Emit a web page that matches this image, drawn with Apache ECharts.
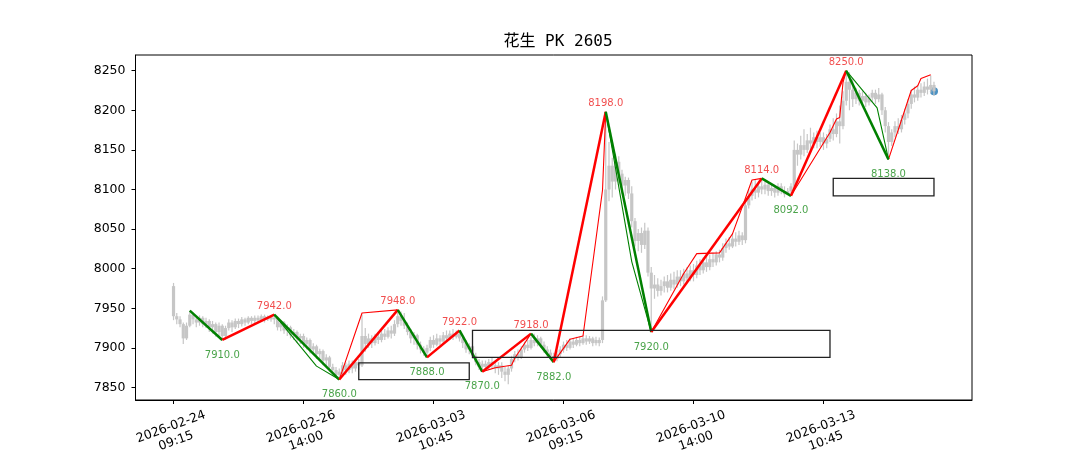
<!DOCTYPE html>
<html>
<head>
<meta charset="utf-8">
<script src="https://cdn.jsdelivr.net/npm/echarts@6/dist/echarts.min.js"></script>
<style>html,body{margin:0;padding:0;background:#fff}#c{width:1080px;height:450px}</style>
</head>
<body>
<div id="c"></div>
<script>
// ---- data ----
const titleText = '花生 PK 2605';
const tickPositions = [0, 40, 80, 120, 160, 200];
const tickLabels = ['2026-02-24\n09:15', '2026-02-26\n14:00', '2026-03-03\n10:45', '2026-03-06\n09:15', '2026-03-10\n14:00', '2026-03-13\n10:45'];
const yTicks = [7850, 7900, 7950, 8000, 8050, 8100, 8150, 8200, 8250];

// 15-minute bars: [open, close, low, high]
const bars = [
[7978,7940,7935,7982],[7940,7936,7930,7944],[7936,7930,7926,7940],[7930,7912,7905,7932],[7912,7928,7910,7932],
[7928,7942,7926,7947],[7942,7936,7930,7944],[7936,7932,7926,7940],[7932,7938,7928,7941],[7938,7930,7926,7940],
[7930,7934,7925,7938],[7934,7926,7920,7936],[7926,7930,7918,7934],[7930,7920,7914,7932],[7920,7928,7915,7932],
[7928,7915,7910,7930],[7915,7925,7910,7928],[7925,7932,7922,7936],[7932,7926,7920,7935],[7926,7934,7924,7937],
[7934,7930,7925,7937],[7930,7936,7927,7939],[7936,7932,7928,7938],[7932,7938,7930,7940],[7938,7934,7930,7940],
[7934,7938,7931,7941],[7938,7935,7932,7941],[7935,7940,7933,7942],[7940,7936,7932,7942],[7936,7939,7934,7941],
[7939,7936,7933,7941],[7936,7938,7930,7942],[7938,7926,7922,7940],[7926,7932,7921,7935],[7932,7922,7918,7934],
[7922,7926,7915,7930],[7926,7916,7912,7928],[7916,7920,7910,7924],[7920,7912,7906,7922],[7912,7915,7905,7918],
[7915,7905,7900,7918],[7905,7910,7898,7913],[7910,7898,7893,7912],[7898,7902,7892,7906],[7902,7892,7886,7904],
[7892,7896,7885,7899],[7896,7884,7878,7898],[7884,7888,7876,7892],[7888,7876,7870,7890],[7876,7872,7866,7880],
[7872,7866,7862,7876],[7866,7870,7860,7874],[7870,7878,7864,7882],[7878,7872,7866,7882],[7872,7880,7868,7884],
[7880,7874,7868,7884],[7874,7882,7870,7886],[7882,7878,7872,7886],[7878,7915,7876,7942],[7915,7905,7895,7925],
[7905,7912,7900,7918],[7912,7906,7900,7916],[7906,7914,7903,7918],[7914,7910,7905,7920],[7910,7918,7907,7922],
[7918,7914,7910,7924],[7914,7922,7912,7926],[7922,7918,7912,7928],[7918,7930,7915,7935],[7930,7940,7926,7948],
[7940,7934,7928,7946],[7934,7928,7924,7944],[7928,7920,7916,7932],[7920,7912,7906,7924],[7912,7916,7904,7920],
[7916,7904,7898,7918],[7904,7898,7893,7908],[7898,7894,7890,7902],[7894,7900,7888,7904],[7900,7910,7896,7914],
[7910,7904,7900,7916],[7904,7912,7902,7918],[7912,7908,7903,7916],[7908,7916,7906,7920],[7916,7912,7908,7922],
[7912,7918,7910,7922],[7918,7914,7910,7924],[7914,7918,7912,7922],[7918,7912,7908,7922],[7912,7906,7900,7916],
[7906,7898,7894,7910],[7898,7902,7892,7906],[7902,7890,7886,7904],[7890,7882,7878,7894],[7882,7876,7872,7886],
[7876,7880,7870,7884],[7880,7876,7872,7884],[7876,7882,7873,7886],[7882,7878,7874,7888],[7878,7874,7868,7884],
[7874,7878,7866,7882],[7878,7870,7862,7882],[7870,7866,7858,7876],[7866,7874,7854,7878],[7874,7886,7870,7890],
[7886,7892,7882,7896],[7892,7888,7884,7898],[7888,7898,7886,7902],[7898,7904,7894,7908],[7904,7900,7896,7910],
[7900,7910,7898,7914],[7910,7906,7902,7918],[7906,7912,7902,7916],[7912,7904,7900,7914],[7904,7898,7894,7908],
[7898,7894,7888,7902],[7894,7890,7886,7898],[7890,7886,7882,7894],[7886,7892,7883,7896],[7892,7898,7888,7902],
[7898,7904,7894,7908],[7904,7900,7896,7910],[7900,7908,7898,7912],[7908,7904,7900,7912],[7904,7910,7902,7914],
[7910,7906,7902,7914],[7906,7912,7904,7916],[7912,7908,7904,7916],[7908,7912,7905,7915],[7912,7906,7902,7914],
[7906,7910,7903,7914],[7910,7906,7902,7913],[7910,7960,7906,7965],[7960,8100,7958,8198],[8100,8130,8085,8160],
[8130,8110,8090,8140],[8110,8135,8100,8145],[8135,8120,8108,8142],[8120,8105,8095,8125],[8105,8112,8092,8116],
[8112,8095,8088,8115],[8095,8060,8052,8104],[8060,8035,8028,8064],[8035,8045,8022,8050],[8045,8030,8020,8052],
[8030,8048,8025,8058],[8048,7995,7990,8052],[7995,7975,7920,8002],[7975,7980,7962,7992],[7980,7972,7965,7988],
[7972,7978,7966,7986],[7978,7984,7970,7990],[7984,7976,7970,7992],[7976,7986,7972,7994],[7986,7980,7974,7996],
[7980,7990,7976,7998],[7990,7984,7978,7998],[7984,7994,7980,8000],[7994,7988,7982,8002],[7988,7998,7984,8004],
[7998,7992,7984,8006],[7992,8004,7988,8010],[8004,7998,7992,8012],[7998,8008,7994,8014],[8008,8002,7996,8016],
[8002,8012,7998,8018],[8012,8008,8002,8020],[8008,8018,8004,8022],[8018,8014,8008,8024],[8014,8026,8010,8032],
[8026,8032,8020,8038],[8032,8028,8024,8040],[8028,8038,8026,8044],[8038,8034,8028,8046],[8034,8042,8030,8048],
[8042,8036,8030,8046],[8036,8080,8032,8086],[8080,8092,8076,8100],[8092,8100,8086,8110],[8100,8096,8088,8112],
[8096,8104,8090,8110],[8104,8100,8094,8114],[8100,8106,8094,8110],[8106,8098,8092,8108],[8098,8102,8092,8106],
[8102,8096,8090,8106],[8096,8104,8092,8108],[8104,8098,8094,8108],[8098,8094,8090,8104],[8094,8098,8093,8102],
[8098,8104,8092,8108],[8104,8150,8102,8162],[8150,8144,8130,8158],[8144,8156,8138,8168],[8156,8150,8142,8176],
[8150,8162,8146,8170],[8162,8158,8150,8178],[8158,8166,8152,8172],[8166,8160,8152,8174],[8160,8166,8154,8172],
[8166,8158,8150,8172],[8158,8164,8152,8170],[8164,8176,8160,8182],[8176,8170,8162,8190],[8170,8186,8166,8196],
[8186,8180,8158,8206],[8180,8212,8176,8224],[8212,8236,8206,8250],[8236,8226,8200,8248],[8226,8214,8204,8240],
[8214,8222,8208,8228],[8222,8212,8206,8226],[8212,8218,8208,8224],[8218,8210,8204,8222],[8210,8216,8206,8220],
[8216,8222,8210,8226],[8222,8214,8208,8226],[8214,8220,8210,8228],[8220,8200,8194,8222],[8200,8180,8172,8204],
[8180,8160,8138,8185],[8160,8172,8155,8176],[8172,8180,8166,8186],[8180,8176,8170,8190],[8176,8188,8172,8194],
[8188,8196,8182,8202],[8196,8208,8190,8214],[8208,8220,8202,8226],[8220,8216,8210,8230],[8216,8226,8212,8232],
[8226,8222,8216,8234],[8222,8230,8218,8236],[8230,8226,8220,8240],[8226,8232,8222,8244],[8232,8224,8218,8236]
];

// main strokes (pivot index / price)
const biIndex = [5, 15, 31, 51, 69, 78, 88, 95, 110, 117, 133, 147, 181, 190, 207, 220];
const biPrice = [7947, 7910, 7942, 7860, 7948, 7888, 7922, 7870, 7918, 7882, 8198, 7920, 8114, 8092, 8250, 8138];
const labelledFrom = 1; // first pivot carries no label

// sub-level strokes
const thinUp = [
  [[51, 7860], [58, 7944], [69, 7948]],
  [[95, 7870], [99, 7875], [104, 7878], [105, 7887], [110, 7918]],
  [[117, 7882], [122, 7911], [126, 7915], [132, 8099], [133, 8198]],
  [[147, 7920], [157, 7994], [161, 8019], [168, 8020], [172, 8044], [178, 8112], [181, 8114]],
  [[190, 8092], [202, 8172], [204, 8189], [205, 8191], [206, 8235], [207, 8250]],
  [[220, 8138], [227, 8225], [229, 8231], [230, 8240], [233, 8245]]
];
const thinDown = [
  [[31, 7942], [44, 7877], [51, 7860]],
  [[133, 8198], [141, 8009], [147, 7920]],
  [[207, 8250], [216.5, 8203], [220, 8138]]
];

// centre boxes: [startIndex, endIndex, low, high]
const boxes = [[57, 91, 7860, 7881], [92, 202, 7888, 7922], [203, 234, 8092, 8114]];

const lastPoint = [234, 8224];

// ---- chart ----
const chart = echarts.init(document.getElementById('c'), null, {renderer: 'canvas'});
const RED = '#ff0000', GREEN = '#008000', GRAY = '#c6c6c6';
const FONT = 'DejaVu Sans';

const series = [];
series.push({
  type: 'custom', name: 'bars', z: 1,
  data: bars.map((b, i) => [i, b[0], b[1], b[2], b[3]]),
  encode: {x: 0, y: [1, 2, 3, 4]},
  renderItem: function (params, api) {
    const i = api.value(0);
    const pO = api.coord([i, api.value(1)]), pC = api.coord([i, api.value(2)]);
    const pL = api.coord([i, api.value(3)]), pH = api.coord([i, api.value(4)]);
    const top = Math.min(pO[1], pC[1]);
    const h = Math.max(1.5, Math.abs(pO[1] - pC[1]));
    return {type: 'group', children: [
      {type: 'line', shape: {x1: pH[0], y1: pH[1], x2: pL[0], y2: pL[1]}, style: {stroke: GRAY, lineWidth: 1.2}},
      {type: 'rect', shape: {x: pO[0] - 1.6, y: top, width: 3.2, height: h}, style: {fill: GRAY}}
    ]};
  }
});

series.push({
  type: 'scatter', z: 0, symbol: 'circle', symbolSize: 8,
  itemStyle: {color: '#1f77b4'}, data: [lastPoint]
});

thinUp.forEach(pts => series.push({type: 'line', z: 3, data: pts, symbol: 'none', silent: true,
  lineStyle: {color: RED, width: 1.1}}));
thinDown.forEach(pts => series.push({type: 'line', z: 3, data: pts, symbol: 'none', silent: true,
  lineStyle: {color: GREEN, width: 1.1}}));

for (let k = 0; k < biIndex.length - 1; k++) {
  const up = biPrice[k + 1] > biPrice[k];
  series.push({type: 'line', z: 4, symbol: 'none', silent: true,
    data: [[biIndex[k], biPrice[k]], [biIndex[k + 1], biPrice[k + 1]]],
    lineStyle: {color: up ? RED : GREEN, width: 2.5}});
}

const peaks = [], troughs = [];
for (let k = labelledFrom; k < biIndex.length; k++) {
  const isPeak = (k > 0 ? biPrice[k] > biPrice[k - 1] : biPrice[k] > biPrice[k + 1]);
  (isPeak ? peaks : troughs).push([biIndex[k], biPrice[k]]);
}
series.push({type: 'scatter', z: 6, symbolSize: 0, data: peaks, silent: true,
  label: {show: true, position: 'top', distance: 3, color: '#ee2222', fontSize: 10, fontFamily: FONT,
    formatter: p => p.value[1].toFixed(1)}});
series.push({type: 'scatter', z: 6, symbolSize: 0, data: troughs, silent: true,
  label: {show: true, position: 'bottom', distance: 10, color: '#1b8c1b', fontSize: 10, fontFamily: FONT,
    formatter: p => p.value[1].toFixed(1)}});

series.push({
  type: 'custom', z: 5, silent: true,
  data: boxes,
  encode: {x: [0, 1], y: [2, 3]},
  renderItem: function (params, api) {
    const a = api.coord([api.value(0), api.value(3)]);
    const b = api.coord([api.value(1), api.value(2)]);
    return {type: 'rect', shape: {x: a[0], y: a[1], width: b[0] - a[0], height: b[1] - a[1]},
      style: {fill: 'none', stroke: '#222', lineWidth: 1.3}};
  }
});

chart.setOption({
  animation: false,
  backgroundColor: '#fff',
  title: {text: titleText, left: 553, top: 29, textAlign: 'center',
    textStyle: {fontSize: 16, fontWeight: 'normal', color: '#000', fontFamily: "'DejaVu Sans Mono', 'Noto Sans CJK SC'"}},
  grid: {left: 135.5, top: 55, width: 836.5, height: 345, show: true, borderColor: '#000', borderWidth: 1,
    backgroundColor: 'transparent', containLabel: false, outerBoundsMode: 'none'},
  xAxis: {
    type: 'value', min: -11.7, max: 245.7,
    splitLine: {show: false},
    axisLine: {show: true, onZero: false, lineStyle: {color: '#000', width: 1}},
    axisTick: {show: true, length: 4, lineStyle: {color: '#000'}, customValues: tickPositions},
    axisLabel: {customValues: tickPositions, rotate: 20, align: 'center', verticalAlign: 'middle', margin: 34,
      fontSize: 12.5, lineHeight: 15, color: '#000', fontFamily: FONT,
      formatter: v => tickLabels[tickPositions.indexOf(v)] || ''}
  },
  yAxis: {
    type: 'value', min: 7834.2, max: 8269.8,
    splitLine: {show: false},
    axisLine: {show: true, onZero: false, lineStyle: {color: '#000', width: 1}},
    axisTick: {show: true, length: 4, lineStyle: {color: '#000'}, customValues: yTicks},
    axisLabel: {customValues: yTicks, margin: 10, fontSize: 12.5, color: '#000', fontFamily: FONT,
      formatter: v => String(v)}
  },
  series: series
});
</script>
</body>
</html>
